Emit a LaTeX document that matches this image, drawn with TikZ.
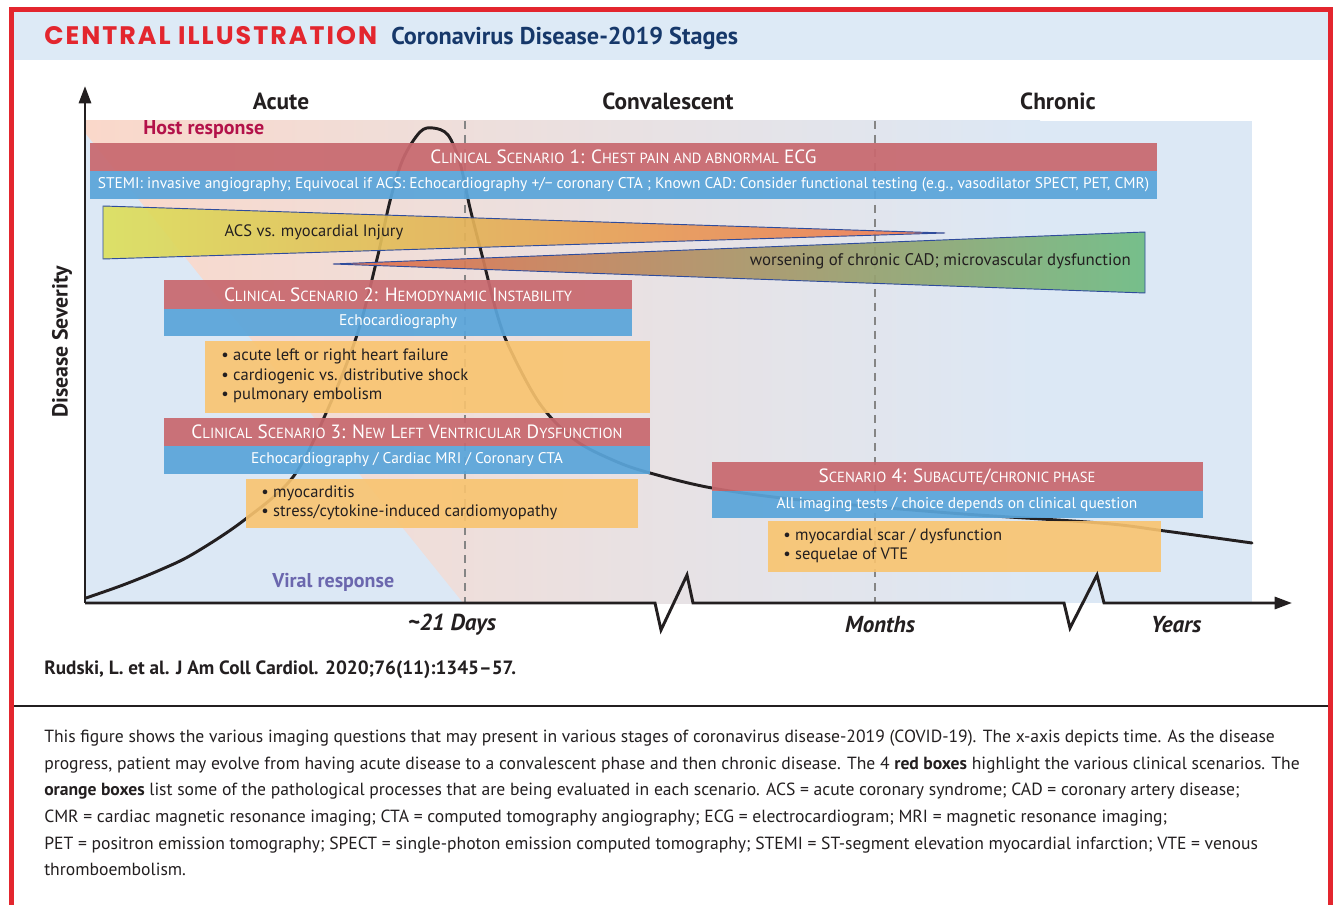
\documentclass[tikz,border=0pt]{standalone}
\usepackage{fontspec}
\setmainfont{PT Sans}
\newfontfamily\ttlfont[LetterSpace=8]{Poppins}
\usetikzlibrary{arrows.meta}
\definecolor{cFrame}{HTML}{E3262E}
\definecolor{cHead}{HTML}{DDEAF6}
\definecolor{cNavy}{HTML}{16386A}
\definecolor{cRed}{HTML}{C8696F}
\definecolor{cBlue}{HTML}{5AA5DA}
\definecolor{cOr}{HTML}{F9C46F}
\definecolor{cSalmon}{HTML}{FAD8CA}
\definecolor{cBg}{HTML}{DCE8F5}
\definecolor{cHost}{HTML}{B3124A}
\definecolor{cViral}{HTML}{6B67AE}
\definecolor{cDash}{HTML}{858585}
\definecolor{cTxt}{HTML}{231F20}
\definecolor{cEdge}{HTML}{2F4C9C}
\definecolor{wYel}{HTML}{DCE05C}
\definecolor{wOrM}{HTML}{E6B05C}
\definecolor{wOrR}{HTML}{EE7856}
\definecolor{wOrL}{HTML}{E86E4E}
\definecolor{wTan}{HTML}{C49E70}
\definecolor{wGrn}{HTML}{6EBC82}
\newcommand\smc[1]{{\fontsize{11}{12}\selectfont #1}}
\begin{document}
\begin{tikzpicture}[x=0.75pt,y=-0.75pt,
  redbox/.style={fill=cRed, fill opacity=0.93},
  bluebox/.style={fill=cBlue, fill opacity=0.93},
  orangebox/.style={fill=cOr, fill opacity=0.9},
  hdtxt/.style={text=white, inner sep=0pt, font=\fontsize{14.4}{15}\selectfont},
  bltxt/.style={text=white, inner sep=0pt, font=\fontsize{11.6}{13}\selectfont},
  bullettxt/.style={text=cTxt, inner sep=0pt, anchor=west, align=left, font=\fontsize{12.4}{14.4}\selectfont},
  phase/.style={text=cTxt, inner sep=0pt, font=\bfseries\fontsize{17.5}{19}\selectfont},
  timelbl/.style={text=cTxt, inner sep=0pt, font=\bfseries\itshape\fontsize{17.3}{19}\selectfont},
  captxt/.style={text=cTxt, inner sep=0pt, anchor=base west, font=\fontsize{13.2}{15}\selectfont},
  dashline/.style={draw=cDash, line width=2.2pt, dash pattern=on 6pt off 4.5pt},
  axisline/.style={draw=cTxt, line width=2.2pt, line join=miter},
  wedgeedge/.style={draw=cEdge, line width=0.7pt}
]
\useasboundingbox (0,0) rectangle (1335,905);
\fill[white] (0,0) rectangle (1335,905);
% header band and frame
\fill[cHead] (14,12) rectangle (1328,60);
\draw[cFrame, line width=3.8pt, line join=miter] (11.5,905) -- (11.5,9.7) -- (1330.5,9.7) -- (1330.5,905);
\node[anchor=base west, inner sep=0pt, text=cFrame, font=\ttlfont\bfseries\fontsize{19}{20}\selectfont] (ttl) at (44,45) {CENTRAL ILLUSTRATION};
\node[anchor=base west, inner sep=0pt, text=cNavy, font=\bfseries\fontsize{18.2}{20}\selectfont] (subttl) at (391,45) {Coronavirus Disease-2019 Stages};

% chart background
\shade[left color=cSalmon, right color=cBg] (85,121) rectangle (1040,603);
\fill[cBg] (1039,121) rectangle (1252,603);
\fill[cBg] (85,133) -- (85,603) -- (463,603) -- cycle;

% dashed separators
\coordinate (d1t) at (465,121); \coordinate (d1b) at (465,603);
\coordinate (d2t) at (875,121); \coordinate (d2b) at (875,603);
\draw[dashline] (d1t) -- (d1b);
\draw[dashline] (d2t) -- (d2b);

% disease curve
\draw[cTxt, line width=2.2pt, line cap=round] plot[smooth, tension=0.55] coordinates {
 (86,598) (123,585) (160,570) (193,554) (243,521) (293,477) (327,411) (357,335)
 (377,259) (390,201) (403,159) (420,132) (433,128) (448,135) (460,163) (470,208)
 (483,259) (497,314) (510,349) (540,404) (575,440) (615,461) (650,473) (712,488)
 (800,500) (950,513) (1100,523) (1165,531) (1252,543)};

% labels of responses
\node[inner sep=0pt, anchor=west, text=cHost, font=\bfseries\fontsize{15}{16}\selectfont] (host) at (143,130) {Host response};
\node[inner sep=0pt, anchor=west, text=cViral, font=\bfseries\fontsize{15}{16}\selectfont] (viral) at (272,582) {Viral response};

% scenario 1
\path[redbox] (90,143) rectangle (1157,171);
\path[bluebox] (90,171) rectangle (1157,199);
\node[hdtxt] (s1h) at (623.5,157) {C\smc{LINICAL} S\smc{CENARIO} 1: C\smc{HEST PAIN AND ABNORMAL} ECG};
\node[bltxt] (s1b) at (623.5,185) {STEMI: invasive angiography; Equivocal if ACS: Echocardiography +/− coronary CTA ; Known CAD: Consider functional testing (e.g., vasodilator SPECT, PET, CMR)};

% wedges
\shadedraw[wedgeedge, left color=wYel, middle color=wOrM, right color=wOrR, fill opacity=0.92] (103,206) -- (945,233) -- (103,259) -- cycle;
\node[inner sep=0pt, text=cTxt, font=\fontsize{12.4}{14}\selectfont] (w1) at (314,232) {ACS vs. myocardial Injury};
\shadedraw[wedgeedge, left color=wOrL, middle color=wTan, right color=wGrn, fill opacity=0.92] (333,264) -- (1145,232) -- (1145,293) -- cycle;
\node[inner sep=0pt, anchor=east, text=cTxt, font=\fontsize{12.6}{14}\selectfont] (w2) at (1131,261) {worsening of chronic CAD; microvascular dysfunction};

% scenario 2
\path[redbox] (164,280) rectangle (632,309);
\path[bluebox] (164,309) rectangle (632,336);
\node[hdtxt] (s2h) at (398,295) {C\smc{LINICAL} S\smc{CENARIO} 2: H\smc{EMODYNAMIC} I\smc{NSTABILITY}};
\node[bltxt] (s2b) at (398,322) {Echocardiography};
\path[orangebox] (205,341) rectangle (650,413);
\node[bullettxt] (s2o) at (221,376) {• acute left or right heart failure\\• cardiogenic vs. distributive shock\\• pulmonary embolism};

% scenario 3
\path[redbox] (164,418) rectangle (650,446);
\path[bluebox] (164,446) rectangle (650,474);
\node[hdtxt] (s3h) at (407,432) {C\smc{LINICAL} S\smc{CENARIO} 3: N\smc{EW} L\smc{EFT} V\smc{ENTRICULAR} D\smc{YSFUNCTION}};
\node[bltxt] (s3b) at (407,460) {Echocardiography / Cardiac MRI / Coronary CTA};
\path[orangebox] (246,479) rectangle (638,528);
\node[bullettxt] (s3o) at (261,503) {• myocarditis\\• stress/cytokine-induced cardiomyopathy};

% scenario 4
\path[redbox] (712,462) rectangle (1203,491);
\path[bluebox] (712,491) rectangle (1203,518);
\node[hdtxt] (s4h) at (957,477) {S\smc{CENARIO} 4: S\smc{UBACUTE}/\smc{CHRONIC PHASE}};
\node[bltxt] (s4b) at (957,505) {All imaging tests / choice depends on clinical question};
\path[orangebox] (768,521) rectangle (1161,572);
\node[bullettxt] (s4o) at (783,546) {• myocardial scar / dysfunction\\• sequelae of VTE};

% axes
\coordinate (O) at (85,603);
\coordinate (ytip) at (85,86);
\coordinate (xtip) at (1292,603);
\draw[axisline, -{Triangle[length=13pt,width=9pt]}] (O) -- (ytip);
\draw[axisline, -{Triangle[length=13pt,width=9pt]}] (O) -- (655,603) -- (661,630) -- (687,575) -- (693,603)
  -- (1064,603) -- (1070,628) -- (1097,575) -- (1104,603) -- (xtip);

% phase labels
\node[phase] (acute) at (281,101) {Acute};
\node[phase] (conv) at (668,101) {Convalescent};
\node[phase] (chron) at (1058,101) {Chronic};
\node[phase, rotate=90, font=\bfseries\fontsize{16.4}{18}\selectfont] (sev) at (62,342) {Disease Severity};
\node[timelbl] (t21) at (452,625) {\textasciitilde21 Days};
\node[timelbl] (tmon) at (880,625) {Months};
\node[timelbl] (tyr) at (1176,625) {Years};

% citation and separator
\node[inner sep=0pt, anchor=base west, text=cTxt, font=\bfseries\fontsize{14.4}{16}\selectfont] (cite) at (44,674) {Rudski, L. et al. J Am Coll Cardiol. 2020;76(11):1345–57.};
\coordinate (sepl) at (14,706); \coordinate (sepr) at (1328,706);
\draw[cTxt, line width=1.1pt] (sepl) -- (sepr);

% caption
\node[captxt] (c1) at (44,742) {This figure shows the various imaging questions that may present in various stages of coronavirus disease-2019 (COVID-19). The x-axis depicts time. As the disease};
\node[captxt] (c2) at (44,769) {progress, patient may evolve from having acute disease to a convalescent phase and then chronic disease. The 4 \textbf{red boxes} highlight the various clinical scenarios. The};
\node[captxt] (c3) at (44,795) {\textbf{orange boxes} list some of the pathological processes that are being evaluated in each scenario. ACS = acute coronary syndrome; CAD = coronary artery disease;};
\node[captxt] (c4) at (44,822) {CMR = cardiac magnetic resonance imaging; CTA = computed tomography angiography; ECG = electrocardiogram; MRI = magnetic resonance imaging;};
\node[captxt] (c5) at (44,849) {PET = positron emission tomography; SPECT = single-photon emission computed tomography; STEMI = ST-segment elevation myocardial infarction; VTE = venous};
\node[captxt] (c6) at (44,875) {thromboembolism.};
\end{tikzpicture}
\end{document}
